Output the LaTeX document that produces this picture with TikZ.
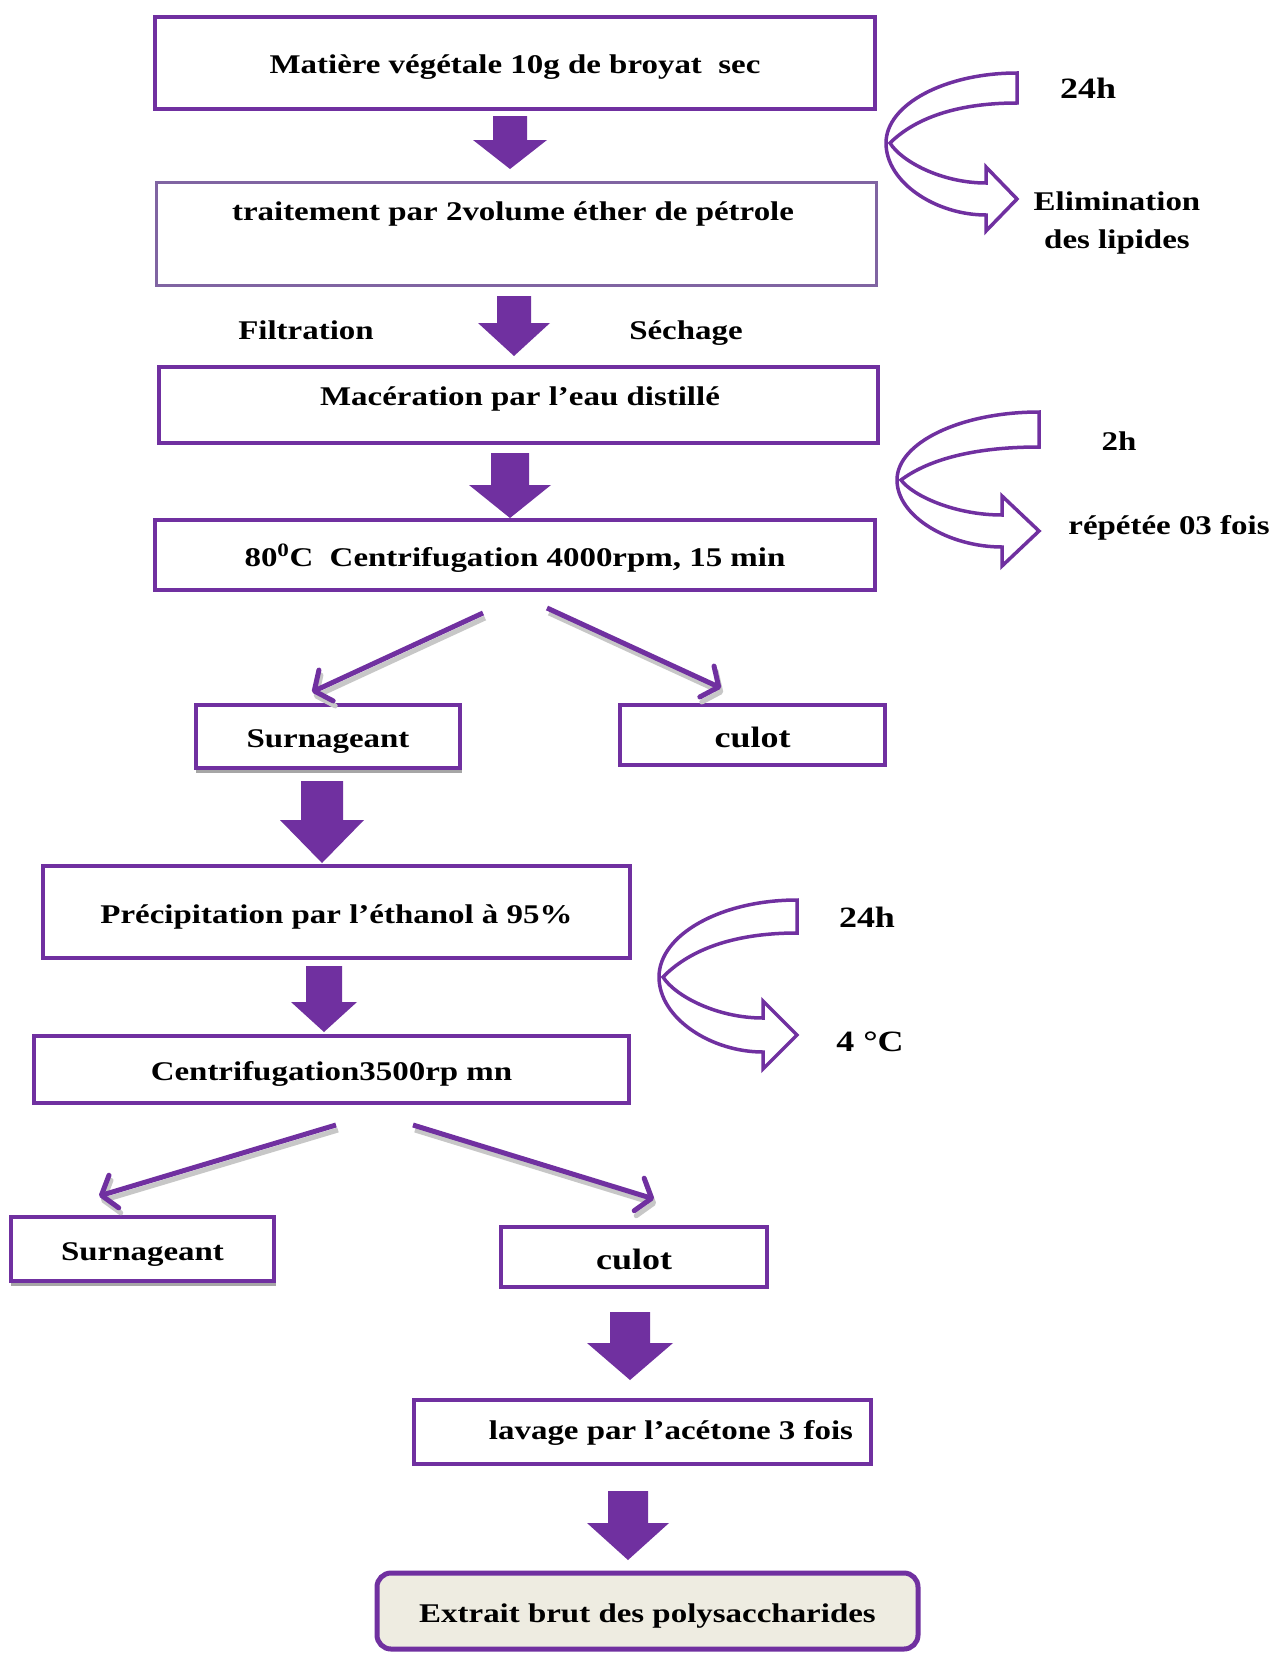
\documentclass[tikz,border=0pt]{standalone}
\usepackage{fontspec}
\newfontfamily\tnr[FakeStretch=1.22]{Liberation Serif}
\usetikzlibrary{arrows.meta}
\definecolor{purp}{RGB}{112,48,160}
\definecolor{purl}{RGB}{128,100,162}
\definecolor{beige}{RGB}{238,236,225}
\tikzset{
 box/.style={draw=purp, line width=4pt, inner sep=0pt, fill=white},
 txt/.style={font=\tnr\bfseries\fontsize{27}{38}\selectfont, inner sep=0pt, text height=27pt, text depth=5pt},
 bigtxt/.style={font=\tnr\bfseries\fontsize{29.5}{34}\selectfont, inner sep=0pt, text height=29pt, text depth=5pt},
 curv/.style={draw=purp, fill=white, line width=3.5pt, line join=miter},
 diag/.style={draw=purp, line width=5pt, -{Straight Barb[length=13pt,width=34pt,round]}},
 diagsh/.style={draw=black!22, line width=5pt, -{Straight Barb[length=13pt,width=34pt,round]}},
 shadowbox/.style={fill=black!35, inner sep=0pt}
}
\newcommand\blockarr[6]{%
 \fill[purp] ({#1-#5},#2) -- ({#1+#5},#2) -- ({#1+#5},#3) -- ({#1+#6},#3) -- (#1,#4) -- ({#1-#6},#3) -- ({#1-#5},#3) -- cycle;}
% #1 L, #2 T, #3 R, #4 B1, #5 M, #6 H, #7 Su, #8 Sl, #9 E
\newcommand\curvarr[9]{%
 \filldraw[curv] (#3,#2)
 .. controls ({#3-0.55*(#3-#1)},#2) and (#1,{#5-0.55*(#5-#2)}) .. (#1,#5)
 .. controls (#1,{#5+0.55*(#8-#5)}) and ({#6-0.5*(#6-#1)},#8) .. (#6,#8)
 -- (#6,{#8+#9}) -- (#3,{(#7+#8)/2}) -- (#6,{#7-#9}) -- (#6,#7)
 .. controls ({#6-0.45*(#6-#1)},#7) and ({#1+0.15*(#6-#1)},{#5+0.45*(#7-#5)}) .. ({#1+4},#5)
 .. controls ({#1+0.2*(#3-#1)},{#5-0.55*(#5-#4)}) and ({#3-0.5*(#3-#1)},#4) .. (#3,#4) -- cycle;}
\begin{document}
\begin{tikzpicture}[x=1pt,y=-1pt]
\fill[white] (0,0) rectangle (1274,1654);
\useasboundingbox (0,0) rectangle (1274,1654);

% boxes
\node[box, txt, minimum width=720pt, minimum height=92pt] (b1) at (515,63) {Matière végétale 10g de broyat\ \ sec};
\node[box, draw=purl, line width=3pt, minimum width=720pt, minimum height=103pt] (b2) at (516,233.5) {};
\node[txt] (t2) at (513,209) {traitement par 2volume éther de pétrole};
\node[txt] (filt) at (306,328) {Filtration};
\node[txt] (sech) at (686,328) {Séchage};
\node[box, line width=4.5pt, minimum width=719pt, minimum height=76pt] (b3) at (518.5,405) {};
\node[txt] (t3) at (520,394) {Macération par l’eau distillé};
\node[box, txt, minimum width=720pt, minimum height=70pt] (b4) at (515,555) {80\textsuperscript{0}C\ \ Centrifugation 4000rpm, 15 min};

\node[shadowbox, minimum width=266pt, minimum height=63pt] (s1sh) at (329,741) {};
\node[box, txt, minimum width=264pt, minimum height=63pt] (s1) at (328,736.5) {Surnageant};
\node[box, bigtxt, minimum width=265pt, minimum height=60pt] (c1) at (752.5,735) {culot};

\node[box, txt, minimum width=587pt, minimum height=92pt] (b5) at (336.5,912) {Précipitation par l’éthanol à 95\%};
\node[box, txt, minimum width=595pt, minimum height=67pt] (b6) at (331.5,1069.5) {Centrifugation3500rp mn};

\node[shadowbox, minimum width=265pt, minimum height=64pt] (s2sh) at (143.5,1253.5) {};
\node[box, txt, minimum width=263pt, minimum height=64pt] (s2) at (142.5,1249) {Surnageant};
\node[box, bigtxt, minimum width=266pt, minimum height=60pt] (c2) at (634,1257) {culot};

\node[box, minimum width=457pt, minimum height=64pt] (b7) at (642.5,1432) {};
\node[txt] (t7) at (671,1428) {lavage par l’acétone 3 fois};
\node[box, txt, fill=beige, line width=5pt, rounded corners=14pt, minimum width=541pt, minimum height=76pt] (b8) at (647.5,1611) {Extrait brut des polysaccharides};

% side labels
\node[bigtxt] (h24a) at (1088,86) {24h};
\node[txt, align=center, text height=, text depth=] (elim) at (1117,223) {Elimination\\des lipides};
\node[txt] (h2) at (1119,439) {2h};
\node[txt] (rep) at (1169,523) {répétée 03 fois};
\node[bigtxt] (h24b) at (867,915) {24h};
\node[bigtxt] (c4) at (870,1039) {4 °C};

% block arrows
\blockarr{510}{116}{140}{169}{17}{37}
\blockarr{514}{296}{323}{356}{17}{36}
\blockarr{510}{453}{485}{518}{19}{41}
\blockarr{322}{781}{820}{863}{21}{42}
\blockarr{324}{966}{1002}{1032}{18}{33}
\blockarr{630}{1312}{1343}{1380}{20}{43}
\blockarr{628}{1491}{1523}{1560}{20}{41}

% curved arrows
\curvarr{886}{73}{1017}{103}{143}{986}{183}{215}{16}
\curvarr{897}{412}{1039}{447}{480}{1002}{515}{547}{19}
\curvarr{659}{900}{797}{933}{977}{763}{1018}{1052}{17}

% diagonal arrows
\coordinate (d1s) at (483,613);
\coordinate (d1e) at (312,692);
\coordinate (d2s) at (547,608);
\coordinate (d2e) at (721,688);
\coordinate (d3s) at (336,1125);
\coordinate (d3e) at (99,1196);
\coordinate (d4s) at (413,1125);
\coordinate (d4e) at (654,1199);
\foreach \a/\b in {d1s/d1e,d2s/d2e,d3s/d3e,d4s/d4e}{
 \draw[diagsh] ([shift={(2,5)}]\a) -- ([shift={(2,5)}]\b);
}
\draw[diag] (d1s) -- (d1e);
\draw[diag] (d2s) -- (d2e);
\draw[diag] (d3s) -- (d3e);
\draw[diag] (d4s) -- (d4e);
\end{tikzpicture}
\end{document}
